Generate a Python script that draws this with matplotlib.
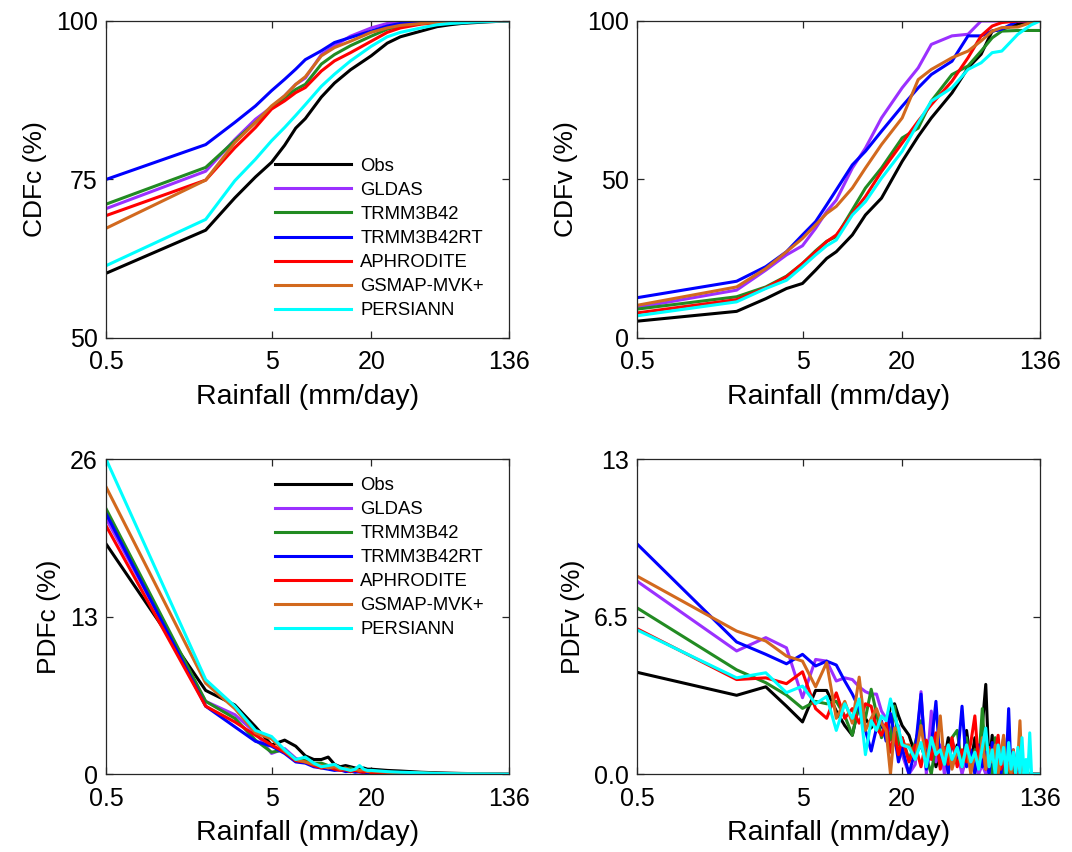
import matplotlib
matplotlib.use("Agg")
import matplotlib.pyplot as plt
from matplotlib.ticker import NullLocator

plt.rcParams['font.family'] = ['Liberation Sans', 'DejaVu Sans']

# =========================
# DATOS
# =========================
series = ['Obs', 'GLDAS', 'TRMM3B42', 'TRMM3B42RT', 'APHRODITE', 'GSMAP-MVK+', 'PERSIANN']
colores = ['#000000', '#9b30ff', '#228b22', '#0000ff', '#ff0000', '#d2691e', '#00ffff']

# eje x de las CDF
x_cdf = [0.5, 2, 3, 4, 5, 6, 7, 8, 10, 12, 15, 20, 25, 30, 40, 50, 60, 70, 80, 100, 120, 136]

cdfc_obs = [60.2, 67.0, 72.1, 75.4, 77.7, 80.4, 83.1, 84.6, 88.0, 90.2, 92.3, 94.5, 96.5, 97.5, 98.4, 99.1, 99.4, 99.6, 99.7, 99.85, 99.95, 100]
cdfc_gldas = [70.4, 76.3, 81.3, 84.5, 86.4, 88.2, 90.0, 91.0, 94.7, 96.1, 97.6, 98.9, 99.6, 99.9, 100, 100, 100, 100, 100, 100, 100, 100]
cdfc_trmm = [71.1, 76.9, 81.1, 84.0, 86.3, 87.9, 89.2, 90.0, 93.2, 94.7, 96.1, 97.6, 98.7, 99.2, 99.6, 99.8, 99.9, 100, 100, 100, 100, 100]
cdfc_trmmrt = [75.0, 80.5, 84.0, 86.6, 89.0, 90.8, 92.4, 93.9, 95.3, 96.6, 97.4, 98.4, 99.2, 99.6, 99.9, 100, 100, 100, 100, 100, 100, 100]
cdfc_aphro = [69.3, 74.9, 80.0, 83.2, 86.1, 87.4, 88.7, 89.5, 92.1, 93.7, 95.0, 96.8, 98.2, 98.9, 99.5, 99.7, 99.85, 99.9, 100, 100, 100, 100]
cdfc_gsmap = [67.3, 74.9, 80.8, 84.0, 86.6, 88.2, 90.0, 91.2, 94.5, 95.8, 96.8, 98.2, 98.9, 99.3, 99.6, 99.8, 99.9, 99.95, 100, 100, 100, 100]
cdfc_persiann = [61.4, 68.7, 74.8, 78.2, 81.1, 83.2, 85.1, 86.8, 89.7, 91.6, 93.7, 96.0, 97.5, 98.2, 98.9, 99.4, 99.6, 99.7, 99.8, 99.9, 100, 100]

cdfv_obs = [5.3, 8.4, 12.4, 15.6, 17.2, 21.4, 25.1, 27.2, 32.5, 38.8, 44.1, 55.7, 63.6, 69.4, 77.3, 85.2, 89.5, 96.8, 97.4, 99.0, 100, 100]
cdfv_gldas = [9.6, 15.1, 21.4, 26.2, 29.1, 34.6, 39.9, 43.5, 53.6, 59.9, 69.4, 78.9, 85.2, 92.6, 95.3, 95.8, 100, 100, 100, 100, 100, 100]
cdfv_trmm = [9.1, 13.0, 16.1, 19.5, 23.5, 27.5, 30.5, 32.0, 40.4, 47.3, 53.6, 63.1, 66.2, 74.7, 83.1, 85.8, 90.5, 94.7, 96.8, 97.0, 97.0, 97.0]
cdfv_trmmrt = [12.7, 17.9, 22.5, 27.2, 32.5, 36.7, 42.0, 46.7, 54.6, 58.9, 65.2, 73.1, 78.9, 83.1, 87.3, 95.3, 95.3, 96.8, 97.4, 100, 100, 100]
cdfv_aphro = [7.9, 12.1, 15.8, 19.3, 23.5, 27.2, 30.4, 32.5, 39.3, 44.6, 52.5, 61.5, 68.4, 73.6, 81.0, 88.4, 95.3, 98.4, 99.5, 100, 100, 100]
cdfv_gsmap = [10.3, 16.1, 21.9, 27.2, 31.4, 35.7, 39.3, 41.5, 47.3, 53.6, 61.0, 69.4, 81.5, 84.7, 88.4, 90.5, 93.7, 96.8, 97.9, 98.1, 99.5, 100]
cdfv_persiann = [7.0, 11.4, 15.6, 18.2, 22.5, 26.2, 29.1, 30.9, 38.8, 43.0, 50.4, 58.9, 67.8, 74.7, 78.9, 84.7, 86.8, 90.0, 90.5, 95.8, 98.7, 100]

# eje x de PDFc
x_pdfc = [0.5, 2, 3, 4, 5, 6, 7, 8, 9, 10, 11, 12, 13, 14, 15, 16, 17, 18, 19, 20,
          25, 30, 40, 50, 70, 100, 136]

pdfc_obs = [19.0, 6.9, 5.7, 3.9, 2.4, 2.8, 2.3, 1.5, 1.2, 1.2, 1.4, 0.8, 0.6, 0.7, 0.6, 0.5, 0.4, 0.5, 0.4, 0.4,
            0.3, 0.25, 0.15, 0.1, 0.05, 0.02, 0]
pdfc_gldas = [21.1, 6.0, 4.9, 3.4, 1.7, 2.1, 1.3, 1.0, 0.7, 0.6, 0.5, 0.4, 0.35, 0.3, 0.2, 0.25, 0.15, 0.2, 0.1, 0.1,
              0.05, 0.04, 0.02, 0.01, 0, 0, 0]
pdfc_trmm = [21.9, 6.0, 4.6, 2.8, 1.8, 2.0, 1.2, 1.1, 0.9, 0.9, 0.7, 0.6, 0.5, 0.4, 0.5, 0.3, 0.3, 0.2, 0.25, 0.2,
             0.1, 0.1, 0.05, 0.03, 0.01, 0, 0]
pdfc_trmmrt = [21.5, 5.6, 3.9, 2.7, 2.3, 1.7, 1.0, 0.9, 0.6, 0.5, 0.4, 0.3, 0.35, 0.2, 0.25, 0.15, 0.2, 0.1, 0.1, 0.05,
               0.05, 0.03, 0.02, 0.01, 0, 0, 0]
pdfc_aphro = [20.5, 5.6, 4.3, 3.2, 2.4, 1.8, 1.1, 1.0, 0.7, 0.5, 0.6, 0.4, 0.3, 0.35, 0.2, 0.3, 0.2, 0.15, 0.25, 0.1,
              0.1, 0.05, 0.05, 0.02, 0.01, 0, 0]
pdfc_gsmap = [23.7, 7.5, 5.4, 3.4, 2.9, 1.9, 1.2, 1.0, 0.8, 0.7, 0.5, 0.6, 0.4, 0.5, 0.3, 0.4, 0.3, 0.35, 0.2, 0.25,
              0.15, 0.1, 0.1, 0.05, 0.02, 0.01, 0]
pdfc_persiann = [26.0, 7.8, 5.6, 3.6, 3.1, 2.0, 1.2, 1.4, 0.9, 0.6, 0.7, 0.8, 0.5, 0.4, 0.3, 0.4, 0.7, 0.4, 0.3, 0.3,
                 0.2, 0.15, 0.1, 0.05, 0.02, 0.01, 0]

# eje x de PDFv
x_pdfv = [0.5, 2, 3, 4, 5, 6, 7, 8, 9, 10, 11, 12, 13, 14, 15, 16, 17, 18, 19, 20,
          22, 24, 26, 28, 30, 32, 34, 36, 38, 40,
          43, 46, 49, 52, 55, 58, 61, 64, 67, 70, 73, 76, 79, 82, 85, 88,
          91, 94, 97, 100, 103, 106, 109, 112, 115, 118, 121, 124, 127, 130, 133, 136]

pdfv_obs = [4.2, 3.25, 3.6, 2.8, 2.15, 3.45, 3.45, 2.6, 2.0, 1.6, 2.9, 2.3, 1.9, 2.5, 2.0, 1.7, 2.8, 2.9, 2.4, 2.0,
            1.6, 0.8, 1.2, 0.5, 1.4, 0.3, 1.0, 0.6, 1.5, 0.4,
            1.2, 0.2, 1.8, 0.4, 1.5, 0.6, 2.0, 3.7, 0.3, 1.6, 0.0, 1.4, 0.3, 1.5, 0.0, 0.6,
            0.0, 0.5, 0.0, 0.3, 0.0, 0.0, 0.0, 0.0, 0.0, 0.0, 0.0, 0.0, 0.0, 0.0, 0.0, 0.0]
pdfv_gldas = [7.96, 5.08, 5.63, 5.21, 3.15, 4.73, 4.66, 3.84, 3.97, 3.9, 3.6, 3.4, 3.3, 3.3, 2.6, 2.3, 1.8, 1.2, 2.0, 0.8,
              0.0, 0.4, 3.4, 0.0, 2.6, 0.5, 1.2, 0.0, 1.0, 0.3,
              0.9, 0.0, 0.7, 0.2, 0.6, 0.0, 0.4, 0.0, 0.3, 0.0, 0.0, 0.0, 0.0, 0.0, 0.0, 0.0,
              0.0, 0.0, 0.0, 0.0, 0.0, 0.0, 0.0, 0.0, 0.0, 0.0, 0.0, 0.0, 0.0, 0.0, 0.0, 0.0]
pdfv_trmm = [6.86, 4.3, 3.77, 3.26, 2.71, 3.0, 2.9, 3.0, 2.4, 1.6, 2.9, 2.3, 3.5, 2.5, 1.5, 2.0, 1.4, 2.8, 1.2, 1.5,
             0.6, 1.3, 2.2, 0.7, 0.0, 1.3, 0.4, 1.0, 0.6, 1.5,
             1.8, 0.3, 1.5, 0.2, 1.0, 0.4, 2.7, 0.3, 1.0, 0.0, 1.5, 0.2, 0.8, 0.0, 0.4, 0.0,
             0.3, 0.0, 0.0, 0.0, 0.0, 0.0, 0.0, 0.0, 0.0, 0.0, 0.0, 0.0, 0.0, 0.0, 0.0, 0.0]
pdfv_trmmrt = [9.5, 5.45, 4.94, 4.55, 4.94, 4.46, 4.66, 4.5, 3.84, 3.3, 2.7, 1.8, 0.95, 1.9, 2.2, 1.36, 2.5, 1.6, 0.5, 1.1,
               0.0, 1.0, 3.3, 0.2, 1.2, 3.0, 0.3, 1.0, 0.0, 1.4,
               0.5, 2.8, 0.3, 1.0, 0.0, 1.2, 0.3, 0.9, 0.0, 1.3, 0.4, 1.0, 0.0, 0.8, 0.3, 2.7,
               0.0, 1.0, 0.0, 0.6, 0.0, 0.0, 0.0, 0.0, 0.0, 0.0, 0.0, 0.0, 0.0, 0.0, 0.0, 0.0]
pdfv_aphro = [6.0, 3.9, 3.97, 3.73, 4.22, 2.7, 2.3, 3.35, 2.3, 2.7, 2.1, 2.9, 2.8, 1.9, 1.6, 2.1, 0.9, 1.7, 0.8, 1.5,
              0.5, 1.2, 0.3, 1.4, 0.6, 1.7, 0.2, 1.1, 0.4, 1.5,
              0.3, 1.0, 0.5, 1.3, 2.4, 0.4, 1.2, 0.2, 1.1, 0.5, 0.9, 1.6, 0.2, 0.7, 0.0, 0.5,
              0.0, 0.0, 0.0, 0.0, 0.0, 0.0, 0.0, 0.0, 0.0, 0.0, 0.0, 0.0, 0.0, 0.0, 0.0, 0.0]
pdfv_gsmap = [8.17, 5.9, 5.49, 4.87, 4.66, 3.6, 4.6, 2.3, 3.0, 2.1, 4.0, 1.8, 2.3, 2.7, 2.1, 1.8, 0.0, 1.9, 1.8, 1.2,
              1.2, 0.6, 2.0, 0.5, 1.5, 0.8, 2.4, 0.4, 1.2, 0.2,
              1.0, 0.3, 1.2, 0.0, 0.9, 0.3, 1.5, 0.2, 1.0, 0.5, 1.2, 0.0, 0.8, 1.6, 0.0, 0.4,
              0.0, 1.0, 0.0, 0.6, 2.2, 0.0, 0.3, 0.0, 0.0, 0.0, 0.0, 0.0, 0.0, 0.0, 0.0, 0.0]
pdfv_persiann = [5.95, 3.97, 4.18, 3.36, 3.63, 2.9, 3.2, 1.8, 2.9, 2.3, 3.1, 0.8, 2.2, 1.8, 2.4, 2.2, 3.1, 2.4, 1.9, 1.2,
                 1.1, 0.6, 1.3, 0.3, 1.5, 0.8, 1.0, 0.4, 1.2, 0.6,
                 1.1, 0.3, 1.2, 0.5, 0.9, 0.2, 1.1, 1.9, 0.3, 1.0, 0.0, 1.2, 0.4, 1.1, 0.0, 1.3,
                 0.2, 0.9, 0.0, 1.1, 0.0, 1.5, 0.0, 0.6, 0.0, 1.7, 0.0, 0.0, 0.0, 0.0, 0.0, 0.0]

paneles = [
    ('CDFc (%)', x_cdf, [cdfc_obs, cdfc_gldas, cdfc_trmm, cdfc_trmmrt, cdfc_aphro, cdfc_gsmap, cdfc_persiann],
     (50, 100), [50, 75, 100], ['50', '75', '100'], (0.42, 0.568)),
    ('CDFv (%)', x_cdf, [cdfv_obs, cdfv_gldas, cdfv_trmm, cdfv_trmmrt, cdfv_aphro, cdfv_gsmap, cdfv_persiann],
     (0, 100), [0, 50, 100], ['0', '50', '100'], None),
    ('PDFc (%)', x_pdfc, [pdfc_obs, pdfc_gldas, pdfc_trmm, pdfc_trmmrt, pdfc_aphro, pdfc_gsmap, pdfc_persiann],
     (0, 26), [0, 13, 26], ['0', '13', '26'], (0.42, 0.943)),
    ('PDFv (%)', x_pdfv, [pdfv_obs, pdfv_gldas, pdfv_trmm, pdfv_trmmrt, pdfv_aphro, pdfv_gsmap, pdfv_persiann],
     (0, 13), [0, 6.5, 13], ['0.0', '6.5', '13'], None),
]

x_ticks = [0.5, 5, 20, 136]
x_labels = ['0.5', '5', '20', '136']

# =========================
# FIGURA
# =========================
fig = plt.figure(figsize=(10.72, 8.52), dpi=100)
posiciones = [
    [0.0989, 0.6033, 0.3759, 0.3721],
    [0.5942, 0.6033, 0.3759, 0.3721],
    [0.0989, 0.0915, 0.3759, 0.3697],
    [0.5942, 0.0915, 0.3759, 0.3697],
]

for pos, (ylab, xs, datos, ylim, yt, ytl, leg) in zip(posiciones, paneles):
    ax = fig.add_axes(pos)
    for nombre, col, ys in zip(series, colores, datos):
        ax.plot(xs, ys, color=col, lw=2.2, label=nombre)
    ax.set_xscale('log')
    ax.set_xlim(0.5, 136)
    ax.set_ylim(*ylim)
    ax.set_xticks(x_ticks)
    ax.set_xticklabels(x_labels)
    ax.xaxis.set_minor_locator(NullLocator())
    ax.set_yticks(yt)
    ax.set_yticklabels(ytl)
    ax.tick_params(direction='in', top=True, right=True, length=5, width=0.9,
                   labelsize=18, pad=6, colors='#262626', labelcolor='black')
    ax.tick_params(axis='x', pad=9)
    for sp in ax.spines.values():
        sp.set_color('#262626')
        sp.set_linewidth(0.9)
    ax.set_xlabel('Rainfall (mm/day)', fontsize=20.5, labelpad=7)
    ax.set_ylabel(ylab, fontsize=19, labelpad=6)
    if leg is not None:
        ax.legend(loc='upper left', bbox_to_anchor=leg, frameon=False, fontsize=13.3,
                  handlelength=4.1, handletextpad=0.5, labelspacing=0.38,
                  borderpad=0, borderaxespad=0)

fig.savefig('out.png', dpi=100)
